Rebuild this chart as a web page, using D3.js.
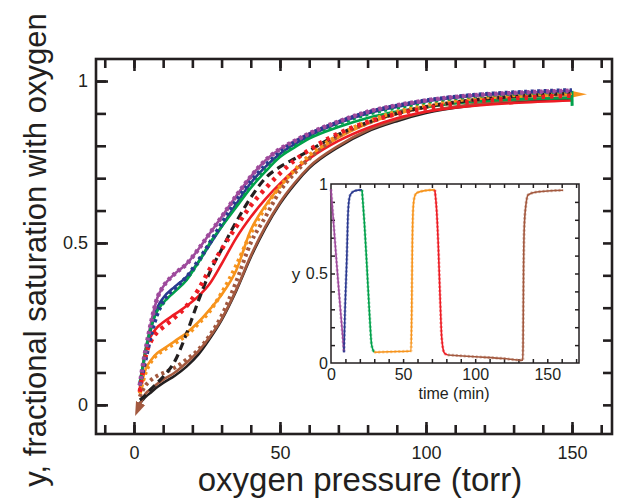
<!DOCTYPE html>
<html>
<meta charset="utf-8">

<!-- Load d3.js -->
<script src="https://d3js.org/d3.v7.js"></script>

<style>
    body { margin: 0; background: white; }
    text { font-family: "Liberation Sans", Arial, Helvetica, sans-serif; fill: #231f20; }
</style>

<body>
    <div id="my_chart"></div>
    <script>

        // pressure grid (torr) shared by all curves of the main plot
        var pressure = [2, 3, 4, 6, 8, 10, 14, 18, 22, 26, 30, 35, 40, 45, 50, 55, 60, 70, 80, 90, 100, 115, 130, 150];

        // fractional saturation, solid = measured, dotted = model
        var purpleY = [0.06, 0.12, 0.17, 0.26, 0.33, 0.365, 0.405, 0.435, 0.48, 0.53, 0.58, 0.645, 0.705, 0.755, 0.79, 0.815, 0.838, 0.875, 0.905, 0.925, 0.94, 0.955, 0.963, 0.97];
        var blueY = [0.07, 0.11, 0.16, 0.24, 0.30, 0.33, 0.365, 0.395, 0.44, 0.495, 0.55, 0.62, 0.685, 0.735, 0.775, 0.805, 0.83, 0.87, 0.90, 0.92, 0.937, 0.953, 0.962, 0.968];
        var blueFit = [0.06, 0.10, 0.14, 0.22, 0.28, 0.32, 0.36, 0.395, 0.445, 0.50, 0.56, 0.63, 0.69, 0.74, 0.78, 0.81, 0.835, 0.873, 0.903, 0.924, 0.94, 0.956, 0.965, 0.972];
        var greenY = [0.07, 0.12, 0.17, 0.245, 0.29, 0.315, 0.35, 0.385, 0.44, 0.50, 0.55, 0.61, 0.67, 0.72, 0.765, 0.795, 0.822, 0.858, 0.886, 0.906, 0.92, 0.935, 0.943, 0.948];
        var greenFit = [0.06, 0.11, 0.16, 0.235, 0.285, 0.315, 0.355, 0.39, 0.44, 0.50, 0.555, 0.62, 0.68, 0.73, 0.772, 0.803, 0.83, 0.868, 0.898, 0.918, 0.935, 0.952, 0.961, 0.968];
        var redY = [0.05, 0.12, 0.17, 0.215, 0.24, 0.255, 0.28, 0.305, 0.335, 0.375, 0.435, 0.515, 0.58, 0.635, 0.683, 0.725, 0.76, 0.815, 0.855, 0.885, 0.905, 0.922, 0.932, 0.94];
        var redFit = [0.04, 0.10, 0.15, 0.20, 0.225, 0.24, 0.27, 0.305, 0.355, 0.42, 0.48, 0.55, 0.615, 0.668, 0.715, 0.755, 0.787, 0.838, 0.873, 0.898, 0.916, 0.935, 0.946, 0.955];
        var orangeY = [0.04, 0.08, 0.11, 0.14, 0.16, 0.172, 0.197, 0.222, 0.255, 0.295, 0.34, 0.415, 0.54, 0.615, 0.675, 0.722, 0.765, 0.825, 0.868, 0.898, 0.918, 0.938, 0.95, 0.958];
        var orangeFit = [0.035, 0.07, 0.10, 0.135, 0.155, 0.168, 0.19, 0.215, 0.25, 0.29, 0.345, 0.43, 0.53, 0.61, 0.675, 0.725, 0.77, 0.832, 0.875, 0.905, 0.925, 0.945, 0.956, 0.963];
        var brownY = [0.0, 0.02, 0.035, 0.05, 0.065, 0.078, 0.10, 0.13, 0.165, 0.21, 0.265, 0.355, 0.46, 0.55, 0.625, 0.685, 0.735, 0.80, 0.848, 0.88, 0.905, 0.927, 0.94, 0.95];
        var brownFit = [0.025, 0.045, 0.06, 0.078, 0.09, 0.098, 0.115, 0.14, 0.17, 0.215, 0.275, 0.38, 0.50, 0.58, 0.66, 0.715, 0.76, 0.83, 0.87, 0.90, 0.92, 0.94, 0.952, 0.96];
        var blackY = [0.005, 0.015, 0.025, 0.04, 0.055, 0.068, 0.09, 0.118, 0.155, 0.205, 0.262, 0.352, 0.456, 0.546, 0.621, 0.681, 0.731, 0.796, 0.844, 0.876, 0.901, 0.923, 0.936, 0.946];
        var blackFit = [0.015, 0.022, 0.03, 0.05, 0.068, 0.087, 0.135, 0.22, 0.32, 0.41, 0.48, 0.565, 0.64, 0.70, 0.735, 0.76, 0.785, 0.835, 0.872, 0.90, 0.92, 0.94, 0.952, 0.962];

        // inset: saturation against time
        var purpleT = [0, 2, 4, 6, 8, 9];
        var purpleS = [0.97, 0.76, 0.55, 0.35, 0.16, 0.06];
        var blueT = [9, 9.7, 10.9, 11.9, 13, 14.3, 17, 21.5];
        var blueS = [0.06, 0.29, 0.57, 0.85, 0.93, 0.95, 0.963, 0.967];
        var greenT = [21.5, 23.1, 24.7, 26.6, 28.2, 30];
        var greenS = [0.967, 0.79, 0.57, 0.29, 0.10, 0.06];
        var orangeT = [30, 42, 55.5, 56, 56.4, 57.1, 58, 59.4, 65, 72];
        var orangeS = [0.06, 0.063, 0.067, 0.30, 0.66, 0.88, 0.93, 0.95, 0.963, 0.967];
        var redT = [72, 73.3, 74.4, 75.6, 76.8, 78.6, 81];
        var redS = [0.967, 0.85, 0.66, 0.38, 0.14, 0.056, 0.045];
        var brownT = [81, 100, 120, 133, 133.2, 133.5, 134, 135.2, 136.8, 142.6, 161];
        var brownS = [0.045, 0.035, 0.025, 0.015, 0.10, 0.475, 0.75, 0.885, 0.94, 0.955, 0.965];

        // tick values
        var xMinor = d3.range(-10, 161, 10);
        var xMajor = [0, 50, 100, 150];
        var yMinor = d3.range(0, 11).map(function (d) { return d / 10; });
        var yMajor = [0, 0.5, 1];
        var tMinor = d3.range(10, 171, 10);
        var tMajor = [0, 50, 100, 150];

        var colors = {
            purple: "#9e4a9c", blue: "#2b3990", green: "#00a14b", red: "#ed1c24",
            orange: "#f7941d", brown: "#a3593f", black: "#231f20"
        };

        var W = 619, H = 500;
        var frame = { left: 96, right: 612, top: 59, bottom: 434 };
        var inset = { left: 331, right: 579, top: 184, bottom: 363 };

        var svg = d3.select("#my_chart")
            .append("svg")
            .attr("width", W)
            .attr("height", H);

        // markers for direction of the runs
        var defs = svg.append("defs");
        defs.append("marker")
            .attr("id", "arrowOrange")
            .attr("markerUnits", "userSpaceOnUse")
            .attr("viewBox", "0 -5 16 10")
            .attr("refX", 1).attr("refY", 0)
            .attr("markerWidth", 16).attr("markerHeight", 10)
            .attr("orient", "auto")
            .append("path")
            .attr("d", "M0,-4L16,0L0,3Z")
            .attr("fill", colors.orange);
        defs.append("marker")
            .attr("id", "barGreen")
            .attr("markerUnits", "userSpaceOnUse")
            .attr("viewBox", "-3 -9 6 18")
            .attr("refX", 0).attr("refY", 0)
            .attr("markerWidth", 6).attr("markerHeight", 18)
            .attr("orient", "auto")
            .append("path")
            .attr("d", "M0,-7L0,8")
            .attr("stroke", colors.green)
            .attr("stroke-width", 3);
        defs.append("marker")
            .attr("id", "arrowBrown")
            .attr("markerUnits", "userSpaceOnUse")
            .attr("viewBox", "0 -6 14 12")
            .attr("refX", 2).attr("refY", 0)
            .attr("markerWidth", 14).attr("markerHeight", 12)
            .attr("orient", "auto-start-reverse")
            .append("path")
            .attr("d", "M0,-5L14,0L0,5Z")
            .attr("fill", colors.brown);

        // main scales
        var x = d3.scaleLinear().domain([-13, 163.7]).range([frame.left, frame.right]);
        var y = d3.scaleLinear().domain([-0.09, 1.068]).range([frame.bottom, frame.top]);

        // ---- axes of the main plot (ticks pointing inward on all sides)
        function styleAxis(g, width) {
            g.select(".domain").remove();
            g.selectAll(".tick line").attr("stroke", "#231f20").attr("stroke-width", width);
        }

        svg.append("g")
            .attr("transform", "translate(0," + frame.bottom + ")")
            .call(d3.axisBottom(x).tickValues(xMinor).tickSize(-9).tickFormat(""))
            .call(styleAxis, 2.6);
        svg.append("g")
            .attr("transform", "translate(0," + frame.bottom + ")")
            .call(d3.axisBottom(x).tickValues(xMajor).tickSize(-12).tickPadding(12).tickFormat(d3.format("d")))
            .call(styleAxis, 2.6)
            .selectAll("text").style("font-size", "18px");
        svg.append("g")
            .attr("transform", "translate(0," + frame.top + ")")
            .call(d3.axisTop(x).tickValues(xMinor).tickSize(-9).tickFormat(""))
            .call(styleAxis, 2.6);
        svg.append("g")
            .attr("transform", "translate(0," + frame.top + ")")
            .call(d3.axisTop(x).tickValues(xMajor).tickSize(-12).tickFormat(""))
            .call(styleAxis, 2.6);

        svg.append("g")
            .attr("transform", "translate(" + frame.left + ",0)")
            .call(d3.axisLeft(y).tickValues(yMinor).tickSize(-10).tickFormat(""))
            .call(styleAxis, 2.6);
        svg.append("g")
            .attr("transform", "translate(" + frame.left + ",0)")
            .call(d3.axisLeft(y).tickValues(yMajor).tickSize(-12).tickPadding(8)
                .tickFormat(function (d) { return d === 0.5 ? "0.5" : d3.format("d")(d); }))
            .call(styleAxis, 2.6)
            .selectAll("text").style("font-size", "18px");
        svg.append("g")
            .attr("transform", "translate(" + frame.right + ",0)")
            .call(d3.axisRight(y).tickValues(yMinor).tickSize(-9).tickFormat(""))
            .call(styleAxis, 2.6);

        svg.append("rect")
            .attr("x", frame.left)
            .attr("y", frame.top)
            .attr("width", frame.right - frame.left)
            .attr("height", frame.bottom - frame.top)
            .attr("fill", "none")
            .attr("stroke", "#231f20")
            .attr("stroke-width", 2.6);

        // ---- curves
        var line = d3.line()
            .x(function (d) { return x(d[0]); })
            .y(function (d) { return y(d[1]); })
            .curve(d3.curveMonotoneX);

        function pairs(xs, ys) {
            return xs.map(function (v, i) { return [v, ys[i]]; });
        }

        var solidCurves = [
            { values: blackY, color: colors.black },
            { values: brownY, color: colors.brown, start: "url(#arrowBrown)" },
            { values: orangeY, color: colors.orange, end: "url(#arrowOrange)" },
            { values: redY, color: colors.red },
            { values: blueY, color: colors.blue },
            { values: purpleY, color: colors.purple },
            { values: greenY, color: colors.green, end: "url(#barGreen)" }
        ];
        var fitCurves = [
            { values: brownFit, color: colors.brown, dash: "3,3.5", width: 4 },
            { values: blackFit, color: colors.black, dash: "8,5", width: 3.2 },
            { values: orangeFit, color: colors.orange, dash: "3,3.5", width: 4 },
            { values: redFit, color: colors.red, dash: "3.5,5", width: 4.5 },
            { values: greenFit, color: colors.green, dash: "3,3.5", width: 4 },
            { values: blueFit, color: colors.blue, dash: "3,3.5", width: 4 },
            { values: purpleY, color: colors.purple, dash: "3,3.5", width: 4.5 }
        ];

        var curves = svg.append("g");
        curves.selectAll(".solid")
            .data(solidCurves)
            .enter()
            .append("path")
            .attr("class", "solid")
            .attr("d", function (d) { return line(pairs(pressure, d.values)); })
            .attr("fill", "none")
            .attr("stroke", function (d) { return d.color; })
            .attr("stroke-width", 2.6)
            .attr("marker-start", function (d) { return d.start || null; })
            .attr("marker-end", function (d) { return d.end || null; });
        curves.selectAll(".fit")
            .data(fitCurves)
            .enter()
            .append("path")
            .attr("class", "fit")
            .attr("d", function (d) { return line(pairs(pressure, d.values)); })
            .attr("fill", "none")
            .attr("stroke", function (d) { return d.color; })
            .attr("stroke-width", function (d) { return d.width; })
            .attr("stroke-dasharray", function (d) { return d.dash; });

        // axis titles
        svg.append("text")
            .attr("x", 360)
            .attr("y", 491)
            .attr("text-anchor", "middle")
            .style("font-size", "33px")
            .text("oxygen pressure (torr)");
        svg.append("text")
            .attr("transform", "translate(46,250) rotate(-90)")
            .attr("text-anchor", "middle")
            .style("font-size", "31px")
            .text("y, fractional saturation with oxygen");

        // ---- inset
        var xi = d3.scaleLinear().domain([0, 172]).range([inset.left, inset.right]);
        var yi = d3.scaleLinear().domain([0, 1]).range([inset.bottom, inset.top]);

        svg.append("rect")
            .attr("x", inset.left)
            .attr("y", inset.top)
            .attr("width", inset.right - inset.left)
            .attr("height", inset.bottom - inset.top)
            .attr("fill", "white");

        svg.append("g")
            .attr("transform", "translate(0," + inset.bottom + ")")
            .call(d3.axisBottom(xi).tickValues(tMinor).tickSize(-4).tickFormat(""))
            .call(styleAxis, 1.5);
        svg.append("g")
            .attr("transform", "translate(0," + inset.bottom + ")")
            .call(d3.axisBottom(xi).tickValues(tMajor).tickSize(0).tickPadding(6).tickFormat(d3.format("d")))
            .call(styleAxis, 1.5)
            .selectAll("text").style("font-size", "16px");
        svg.append("g")
            .attr("transform", "translate(0," + inset.top + ")")
            .call(d3.axisTop(xi).tickValues(tMinor).tickSize(-4).tickFormat(""))
            .call(styleAxis, 1.5);
        svg.append("g")
            .attr("transform", "translate(" + inset.left + ",0)")
            .call(d3.axisLeft(yi).tickValues(yMinor.slice(1, 10)).tickSize(-4).tickFormat(""))
            .call(styleAxis, 1.5);
        svg.append("g")
            .attr("transform", "translate(" + inset.left + ",0)")
            .call(d3.axisLeft(yi).tickValues(yMajor).tickSize(0).tickPadding(3)
                .tickFormat(function (d) { return d === 0.5 ? "0.5" : d3.format("d")(d); }))
            .call(styleAxis, 1.5)
            .selectAll("text").style("font-size", "16px");
        svg.append("g")
            .attr("transform", "translate(" + inset.right + ",0)")
            .call(d3.axisRight(yi).tickValues(yMinor.slice(1, 10)).tickSize(-4).tickFormat(""))
            .call(styleAxis, 1.5);

        svg.append("rect")
            .attr("x", inset.left)
            .attr("y", inset.top)
            .attr("width", inset.right - inset.left)
            .attr("height", inset.bottom - inset.top)
            .attr("fill", "none")
            .attr("stroke", "#231f20")
            .attr("stroke-width", 1.5);

        var lineInset = d3.line()
            .x(function (d) { return xi(d[0]); })
            .y(function (d) { return yi(d[1]); })
            .curve(d3.curveMonotoneX);

        var insetRuns = [
            { t: purpleT, s: purpleS, color: colors.purple },
            { t: blueT, s: blueS, color: colors.blue },
            { t: greenT, s: greenS, color: colors.green },
            { t: orangeT, s: orangeS, color: colors.orange },
            { t: redT, s: redS, color: colors.red },
            { t: brownT, s: brownS, color: colors.brown }
        ];

        var runs = svg.append("g");
        runs.selectAll(".run")
            .data(insetRuns)
            .enter()
            .append("path")
            .attr("class", "run")
            .attr("d", function (d) { return lineInset(pairs(d.t, d.s)); })
            .attr("fill", "none")
            .attr("stroke", function (d) { return d.color; })
            .attr("stroke-width", 1.6);
        runs.selectAll(".runFit")
            .data(insetRuns)
            .enter()
            .append("path")
            .attr("class", "runFit")
            .attr("d", function (d) { return lineInset(pairs(d.t, d.s)); })
            .attr("fill", "none")
            .attr("stroke", function (d) { return d.color; })
            .attr("stroke-opacity", 0.45)
            .attr("stroke-width", 3)
            .attr("stroke-dasharray", "2,2");

        svg.append("text")
            .attr("x", 296)
            .attr("y", 280)
            .attr("text-anchor", "middle")
            .style("font-size", "17px")
            .text("y");
        svg.append("text")
            .attr("x", 454)
            .attr("y", 399)
            .attr("text-anchor", "middle")
            .style("font-size", "16px")
            .text("time (min)");

    </script>
</body>

</html>
